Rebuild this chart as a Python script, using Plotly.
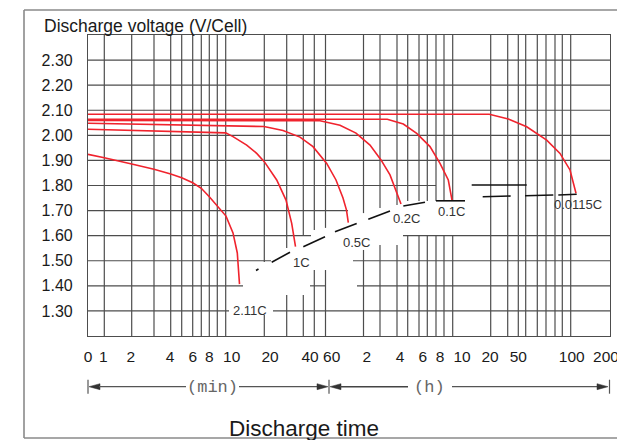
import plotly.graph_objects as go

# ---------------- axis structure (custom hand-drawn time scale, position units) ----------------
X_RANGE = [0, 522]
Y_RANGE = [1.2, 2.4]
Y_TICKS = [1.3, 1.4, 1.5, 1.6, 1.7, 1.8, 1.9, 2.0, 2.1, 2.2, 2.3]
X_TICK_POS = [0, 15.3, 42.7, 82, 104.7, 121.3, 143.7, 182, 222, 243.7,
              278.7, 312, 334.7, 352, 374, 402, 430.3, 483.7, 518]
X_TICK_TEXT = ["0", "1", "2", "4", "6", "8", "10", "20", "40", "60",
               "2", "4", "6", "8", "10", "20", "50", "100", "200"]

# vertical grid lines: position -> visible voltage spans
V_GRID = [
    (16.3, [(1.2, 2.4)]), (43.7, [(1.2, 2.4)]), (66, [(1.2, 2.4)]), (82.7, [(1.2, 2.4)]),
    (93.7, [(1.2, 2.4)]), (104.7, [(1.2, 2.4)]), (113.3, [(1.2, 2.4)]), (121.3, [(1.2, 2.4)]),
    (129.3, [(1.2, 2.4)]), (137.7, [(1.2, 2.4)]),
    (176.3, [(1.2, 1.284), (1.495, 2.4)]),
    (198.7, [(1.2, 1.363), (1.551, 2.4)]),
    (215.3, [(1.2, 1.363), (1.599, 2.4)]),
    (226.3, [(1.2, 1.463), (1.623, 2.4)]),
    (237.5, [(1.2, 1.463), (1.631, 2.4)]),
    (275.5, [(1.2, 1.543), (1.690, 2.4)]),
    (292, [(1.2, 1.563), (1.710, 2.4)]),
    (309, [(1.2, 1.563), (1.722, 2.4)]),
    (319.7, [(1.2, 1.603), (1.738, 2.4)]), (331, [(1.2, 1.603), (1.738, 2.4)]),
    (339.3, [(1.2, 1.603), (1.738, 2.4)]), (348, [(1.2, 1.603), (1.738, 2.4)]),
    (356, [(1.2, 1.603), (1.738, 2.4)]), (364.7, [(1.2, 1.603), (1.738, 2.4)]),
    (402.7, [(1.2, 2.4)]), (419.7, [(1.2, 2.4)]), (430.3, [(1.2, 2.4)]), (437.7, [(1.2, 2.4)]),
    (449.3, [(1.2, 2.4)]), (458, [(1.2, 2.4)]), (467, [(1.2, 2.4)]), (474.3, [(1.2, 2.4)]),
    (482.7, [(1.2, 2.4)]),
]
# horizontal grid lines: voltage -> visible position spans
H_GRID = [
    (2.3, [(0, 522)]), (2.2, [(0, 522)]), (2.1, [(0, 522)]), (2.0, [(0, 522)]), (1.9, [(0, 522)]),
    (1.8, [(0, 348)]),
    (1.7, [(0, 260)]),
    (1.6, [(0, 223), (315, 522)]),
    (1.5, [(0, 183), (265, 522)]),
    (1.4, [(0, 155), (222, 237), (269, 522)]),
    (1.3, [(0, 141), (185, 522)]),
]

# ---------------- discharge curves (position on time scale, V/cell) ----------------
NAMES = ["2.11C", "1C", "0.5C", "0.2C", "0.1C", "0.0115C"]
X_211C = [0, 16.3, 43.7, 66, 82.7, 93.7, 104.7, 113.3, 121.3, 129, 138, 145, 149.3, 151.5]
V_211C = [1.924, 1.911, 1.886, 1.865, 1.846, 1.831, 1.811, 1.789, 1.755, 1.718, 1.678, 1.611, 1.531, 1.407]
X_1C = [0, 137.7, 145, 158.7, 168.7, 176.3, 188.7, 198, 203.7, 207.5]
V_1C = [2.024, 2.010, 1.995, 1.961, 1.928, 1.895, 1.822, 1.742, 1.649, 1.556]
X_05C = [0, 176, 195, 212, 225, 238.7, 248, 255, 258.5, 260.3]
V_05C = [2.048, 2.035, 2.019, 1.993, 1.955, 1.888, 1.822, 1.750, 1.702, 1.652]
X_02C = [0, 232, 252, 268, 282, 293, 302, 308, 313]
V_02C = [2.059, 2.058, 2.040, 2.009, 1.961, 1.902, 1.842, 1.782, 1.726]
X_01C = [0, 299.3, 315.3, 328.7, 342, 352, 360.3, 364]
V_01C = [2.064, 2.064, 2.045, 2.008, 1.955, 1.888, 1.822, 1.742]
X_00115C = [0, 401.3, 420.3, 438.7, 458.7, 472, 482, 488]
V_00115C = [2.084, 2.084, 2.065, 2.034, 1.981, 1.928, 1.862, 1.769]
CURVES_X = [X_211C, X_1C, X_05C, X_02C, X_01C, X_00115C]
CURVES_V = [V_211C, V_1C, V_05C, V_02C, V_01C, V_00115C]

# end-of-discharge line (dashed, hand drawn segments)
END_X = [(168, 170.5), (183.7, 202), (215.3, 237), (247, 268.7), (280.3, 302), (315.3, 337),
         (348, 377), (383.7, 438.7), (394.7, 422.7), (437, 465.3), (470.3, 488.7)]
END_V = [(1.461, 1.467), (1.494, 1.534), (1.556, 1.596), (1.616, 1.649), (1.665, 1.698), (1.718, 1.733),
         (1.739, 1.739), (1.802, 1.802), (1.755, 1.758), (1.759, 1.762), (1.762, 1.765)]

# label anchor (position, voltage)
LABEL_X = [162, 213.7, 268.7, 318.7, 363, 489.5]
LABEL_V = [1.302, 1.493, 1.573, 1.669, 1.696, 1.726]

GRID_COLOR = "#4d4d4d"
RED = "rgb(240,35,45)"
FONT = "Liberation Sans, Arial, sans-serif"
TEXT = "#1a1a1a"

fig = go.Figure()

# grid
gx, gy = [], []
for v, spans in H_GRID:
    for a, b in spans:
        gx += [a, b, None]
        gy += [v, v, None]
for x, spans in V_GRID:
    for a, b in spans:
        gx += [x, x, None]
        gy += [a, b, None]
fig.add_trace(go.Scatter(x=gx, y=gy, mode="lines", line=dict(color=GRID_COLOR, width=1.2),
                         hoverinfo="skip", showlegend=False))

# curves
for name, xs, vs in zip(NAMES, CURVES_X, CURVES_V):
    fig.add_trace(go.Scatter(x=xs, y=vs, mode="lines", name=name,
                             line=dict(color=RED, width=1.6), showlegend=False))

# end-of-discharge segments
ex, ev = [], []
for (a, b), (c, d) in zip(END_X, END_V):
    ex += [a, b, None]
    ev += [c, d, None]
fig.add_trace(go.Scatter(x=ex, y=ev, mode="lines", line=dict(color="#111111", width=1.6),
                         hoverinfo="skip", showlegend=False))

annotations = []
for name, lx, lv in zip(NAMES, LABEL_X, LABEL_V):
    annotations.append(dict(x=lx, y=lv, xref="x", yref="y", text=name, showarrow=False,
                            font=dict(size=13, color="#333333", family=FONT)))

# helpers for layout decorations (pixel -> paper)
L, R, T, B = 88, 7, 35, 104
PW, PH = 617 - L - R, 440 - T - B


def px(x):
    return (x - L) / PW


def py(y):
    return (440 - B - y) / PH


annotations += [
    dict(x=px(41.7), y=py(26), xref="paper", yref="paper", xanchor="left", yanchor="middle",
         text="Discharge voltage (V/Cell)", showarrow=False,
         font=dict(size=17.5, color=TEXT, family=FONT)),
    dict(x=px(303.5), y=py(428), xref="paper", yref="paper", xanchor="center", yanchor="middle",
         text="Discharge time", showarrow=False,
         font=dict(size=22.5, color=TEXT, family=FONT)),
    dict(x=px(212.5), y=py(387.5), xref="paper", yref="paper", xanchor="center", yanchor="middle",
         text="(min)", showarrow=False,
         font=dict(size=17, color="#666666", family="Liberation Mono, Courier New, monospace")),
    dict(x=px(429), y=py(387.5), xref="paper", yref="paper", xanchor="center", yanchor="middle",
         text="(h)", showarrow=False,
         font=dict(size=17, color="#666666", family="Liberation Mono, Courier New, monospace")),
]

shapes = []
AY = 386.7
LINE = dict(color="#555555", width=1.2)


def seg(x0, y0, x1, y1, line=LINE):
    shapes.append(dict(type="line", xref="paper", yref="paper", x0=px(x0), y0=py(y0),
                       x1=px(x1), y1=py(y1), line=line, layer="above"))


def tri(tip, base, y):
    shapes.append(dict(type="path", xref="paper", yref="paper",
                       path=f"M {px(tip)},{py(y)} L {px(base)},{py(y - 3)} L {px(base)},{py(y + 3)} Z",
                       fillcolor="#333333", line=dict(color="#333333", width=0.5), layer="above"))


# arrow row
seg(88, AY - 7, 88, AY + 7)
tri(89, 100, AY)
seg(99, AY, 186, AY)
seg(239, AY, 318, AY)
tri(328, 317, AY)
seg(329, AY - 7, 329, AY + 7)
tri(330, 341, AY)
seg(340, AY, 408, AY, dict(color="#444444", width=1.4))
seg(452, AY, 600, AY)
tri(608, 597, AY)
seg(609.5, AY - 7, 609.5, AY + 7)

# outer frame
BORDER = dict(color="#8a8a8a", width=1.6)
seg(24, 10, 620, 10, BORDER)
seg(24, 10, 24, 438, BORDER)
seg(24, 438, 620, 438, BORDER)

fig.update_layout(
    width=617, height=440,
    margin=dict(l=L, r=R, t=T, b=B),
    paper_bgcolor="white", plot_bgcolor="white",
    showlegend=False,
    font=dict(family=FONT, color=TEXT),
    annotations=annotations,
    shapes=shapes,
    xaxis=dict(range=X_RANGE, tickmode="array", tickvals=X_TICK_POS, ticktext=X_TICK_TEXT,
               showgrid=False, zeroline=False, showline=True, mirror=True,
               linecolor=GRID_COLOR, linewidth=1.2, ticks="", ticklabelstandoff=6,
               ticklabeloverflow="allow",
               tickfont=dict(size=15.5, color=TEXT), automargin=False, fixedrange=True),
    yaxis=dict(range=Y_RANGE, tickmode="array", tickvals=Y_TICKS,
               ticktext=[f"{v:.2f}" for v in Y_TICKS],
               showgrid=False, zeroline=False, showline=True, mirror=True,
               linecolor=GRID_COLOR, linewidth=1.2, ticks="", ticklabelstandoff=11,
               tickfont=dict(size=16, color=TEXT), automargin=False, fixedrange=True),
)

fig.write_html("out.html")
